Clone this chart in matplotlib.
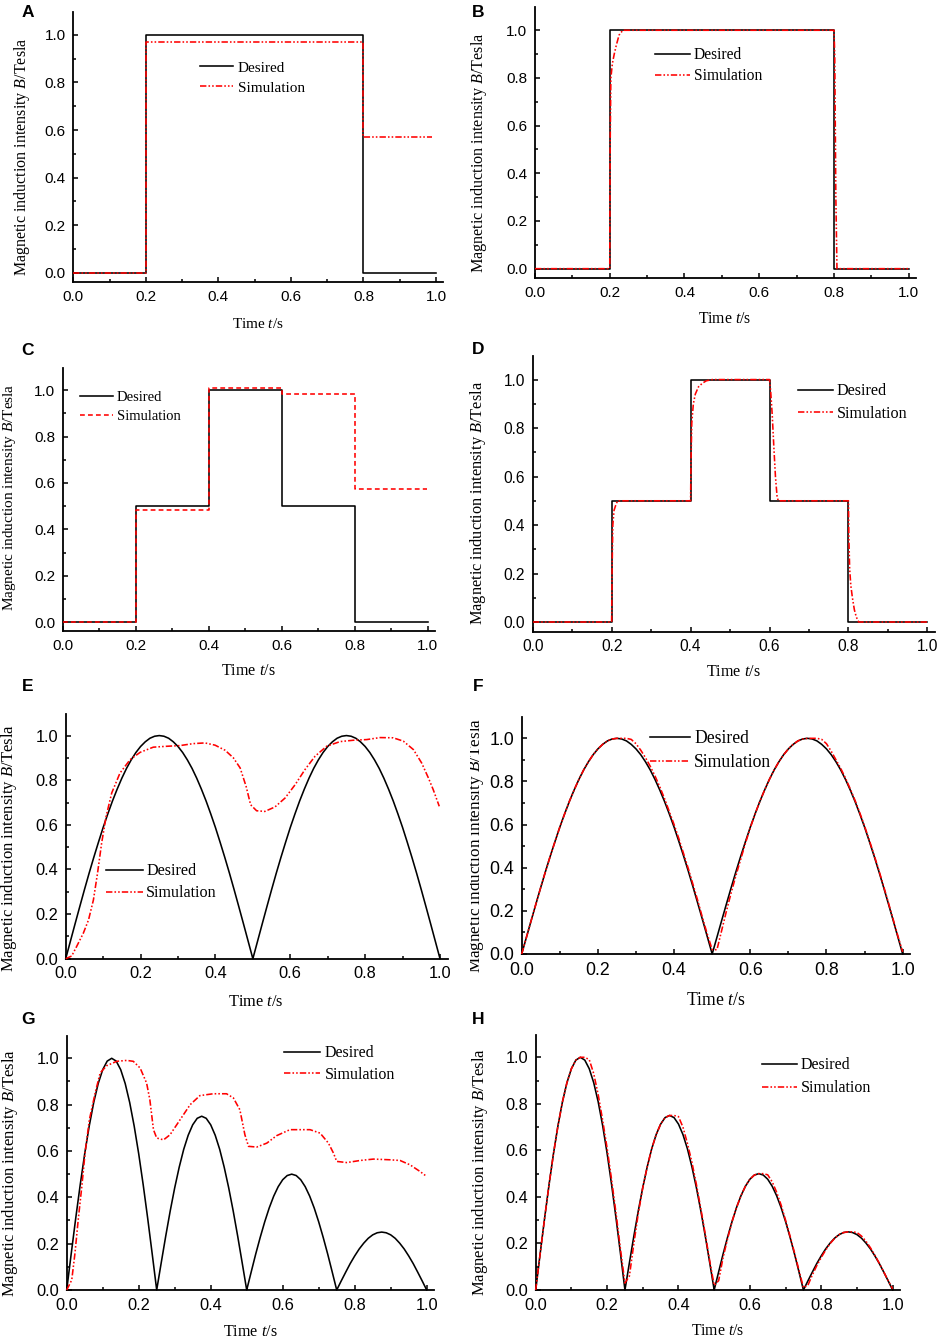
import numpy as np
import matplotlib
matplotlib.use("Agg")
import matplotlib.pyplot as plt
from matplotlib.ticker import MultipleLocator, FormatStrFormatter
from matplotlib.transforms import Bbox, TransformedBbox

plt.rcParams['font.family'] = ['Liberation Serif', 'DejaVu Serif']
plt.rcParams['mathtext.fontset'] = 'custom'
plt.rcParams['mathtext.rm'] = 'Liberation Serif'
plt.rcParams['mathtext.it'] = 'Liberation Serif:italic'

W, H = 940, 1339

# ---------------- data ----------------
# A: single pulse (step signals, break times + levels)
t_des_A = [0.0, 0.2, 0.8, 1.0]
des_A = [0.0, 1.0, 0.0, 0.0]
t_sim_A = [0.0, 0.2, 0.8, 0.988]
sim_A = [0.0, 0.97, 0.57, 0.57]

# B: single pulse, improved controller
t_des_B = [0.0, 0.2, 0.8, 1.0]
des_B = [0.0, 1.0, 0.0, 0.0]
t_sim_B = [0.0, 0.2, 0.201, 0.203, 0.207, 0.212, 0.218, 0.225, 0.235,
           0.8, 0.802, 0.805, 0.808, 1.0]
sim_B = [0.0, 0.0, 0.5, 0.8, 0.86, 0.9, 0.94, 0.98, 1.0,
         1.0, 0.9, 0.3, 0.0, 0.0]

# C: staircase
t_des_C = [0.0, 0.2, 0.4, 0.6, 0.8, 1.0]
des_C = [0.0, 0.5, 1.0, 0.5, 0.0, 0.0]
t_sim_C = [0.0, 0.2, 0.4, 0.6, 0.8, 0.997]
sim_C = [0.0, 0.485, 1.01, 0.985, 0.575, 0.575]

# D: staircase, improved controller
t_des_D = [0.0, 0.2, 0.4, 0.6, 0.8, 1.0]
des_D = [0.0, 0.5, 1.0, 0.5, 0.0, 0.0]
t_sim_D = [0.0, 0.2, 0.201, 0.203, 0.206, 0.21, 0.215,
           0.4, 0.401, 0.403, 0.407, 0.412, 0.42, 0.43, 0.44, 0.455,
           0.6, 0.603, 0.607, 0.611, 0.615, 0.619, 0.622,
           0.8, 0.801, 0.803, 0.806, 0.81, 0.815, 0.82, 0.826, 1.0]
sim_D = [0.0, 0.0, 0.2, 0.4, 0.46, 0.48, 0.5,
         0.5, 0.65, 0.82, 0.9, 0.94, 0.97, 0.985, 0.995, 1.0,
         1.0, 0.95, 0.85, 0.72, 0.6, 0.52, 0.5,
         0.5, 0.35, 0.22, 0.15, 0.1, 0.05, 0.02, 0.0, 0.0]

# sampled time for the sinusoidal references (81 samples over 0..1 s)
t_grid = np.linspace(0.0, 1.0, 81)

# E / F: rectified sine reference, two humps
des_sine = [0.000, 0.078, 0.156, 0.233, 0.309, 0.383, 0.454, 0.522, 0.588, 0.649,
            0.707, 0.760, 0.809, 0.853, 0.891, 0.924, 0.951, 0.972, 0.988, 0.997,
            1.000, 0.997, 0.988, 0.972, 0.951, 0.924, 0.891, 0.853, 0.809, 0.760,
            0.707, 0.649, 0.588, 0.522, 0.454, 0.383, 0.309, 0.233, 0.156, 0.078,
            0.000, 0.078, 0.156, 0.233, 0.309, 0.383, 0.454, 0.522, 0.588, 0.649,
            0.707, 0.760, 0.809, 0.853, 0.891, 0.924, 0.951, 0.972, 0.988, 0.997,
            1.000, 0.997, 0.988, 0.972, 0.951, 0.924, 0.891, 0.853, 0.809, 0.760,
            0.707, 0.649, 0.588, 0.522, 0.454, 0.383, 0.309, 0.233, 0.156, 0.078,
            0.000]

t_sim_E = [0.0, 0.016, 0.029, 0.047, 0.061, 0.074, 0.085, 0.096, 0.108, 0.123,
           0.145, 0.172, 0.199, 0.234, 0.27, 0.305, 0.341, 0.372, 0.399, 0.426,
           0.448, 0.466, 0.482, 0.494, 0.51, 0.532, 0.559, 0.586, 0.613, 0.639,
           0.666, 0.697, 0.733, 0.768, 0.804, 0.84, 0.875, 0.902, 0.929, 0.951,
           0.969, 0.982, 0.998]
sim_E = [0.0, 0.012, 0.054, 0.114, 0.174, 0.263, 0.383, 0.518, 0.638, 0.743,
         0.832, 0.892, 0.925, 0.948, 0.952, 0.955, 0.964, 0.967, 0.957, 0.934,
         0.9, 0.855, 0.772, 0.69, 0.663, 0.66, 0.68, 0.72, 0.78, 0.847,
         0.907, 0.952, 0.973, 0.979, 0.982, 0.991, 0.99, 0.975, 0.937, 0.877,
         0.81, 0.757, 0.683]

sim_F = [0.000, 0.078, 0.156, 0.233, 0.309, 0.383, 0.454, 0.522, 0.588, 0.649,
         0.707, 0.760, 0.809, 0.853, 0.891, 0.924, 0.951, 0.972, 0.988, 0.997,
         1.000, 1.000, 1.000, 0.995, 0.975, 0.945, 0.910, 0.870, 0.825, 0.775,
         0.720, 0.660, 0.600, 0.535, 0.465, 0.395, 0.320, 0.245, 0.165, 0.090,
         0.020, 0.020, 0.110, 0.200, 0.285, 0.365, 0.440, 0.515, 0.585, 0.649,
         0.707, 0.760, 0.809, 0.853, 0.891, 0.924, 0.951, 0.972, 0.988, 0.997,
         1.000, 1.000, 1.000, 0.995, 0.975, 0.940, 0.900, 0.860, 0.815, 0.765,
         0.712, 0.654, 0.593, 0.527, 0.459, 0.388, 0.314, 0.238, 0.161, 0.083,
         0.010]

# G / H: rectified sine with decaying peaks 1, 0.75, 0.5, 0.25
des_decay = [0.000, 0.156, 0.309, 0.454, 0.588, 0.707, 0.809, 0.891, 0.951, 0.988,
             1.000, 0.988, 0.951, 0.891, 0.809, 0.707, 0.588, 0.454, 0.309, 0.156,
             0.000, 0.117, 0.232, 0.341, 0.441, 0.530, 0.607, 0.668, 0.713, 0.741,
             0.750, 0.741, 0.713, 0.668, 0.607, 0.530, 0.441, 0.341, 0.232, 0.117,
             0.000, 0.078, 0.155, 0.227, 0.294, 0.354, 0.405, 0.446, 0.476, 0.494,
             0.500, 0.494, 0.476, 0.446, 0.405, 0.354, 0.294, 0.227, 0.155, 0.078,
             0.000, 0.039, 0.077, 0.114, 0.147, 0.177, 0.202, 0.223, 0.238, 0.247,
             0.250, 0.247, 0.238, 0.223, 0.202, 0.177, 0.147, 0.114, 0.077, 0.039,
             0.000]

t_sim_G = [0.0, 0.014, 0.023, 0.032, 0.042, 0.051, 0.063, 0.079, 0.093, 0.111,
           0.139, 0.167, 0.185, 0.204, 0.222, 0.231, 0.241, 0.25, 0.269, 0.287,
           0.315, 0.343, 0.37, 0.407, 0.444, 0.463, 0.481, 0.495, 0.505, 0.528,
           0.556, 0.583, 0.62, 0.676, 0.704, 0.727, 0.741, 0.75, 0.778, 0.815,
           0.852, 0.898, 0.926, 0.954, 0.981, 1.0]
sim_G = [0.0, 0.043, 0.159, 0.303, 0.447, 0.591, 0.735, 0.85, 0.937, 0.968,
         0.987, 0.991, 0.987, 0.958, 0.893, 0.821, 0.692, 0.656, 0.648, 0.67,
         0.735, 0.8, 0.839, 0.847, 0.847, 0.829, 0.778, 0.67, 0.62, 0.617,
         0.634, 0.666, 0.692, 0.692, 0.677, 0.634, 0.591, 0.555, 0.55, 0.559,
         0.565, 0.562, 0.559, 0.54, 0.512, 0.49]

sim_H = [0.000, 0.156, 0.309, 0.454, 0.588, 0.707, 0.809, 0.891, 0.951, 0.988,
         1.000, 1.000, 0.990, 0.930, 0.840, 0.730, 0.610, 0.475, 0.330, 0.175,
         0.030, 0.060, 0.200, 0.330, 0.440, 0.530, 0.607, 0.668, 0.713, 0.741,
         0.750, 0.750, 0.745, 0.700, 0.630, 0.550, 0.455, 0.350, 0.240, 0.125,
         0.020, 0.040, 0.140, 0.220, 0.294, 0.354, 0.405, 0.446, 0.476, 0.494,
         0.500, 0.500, 0.495, 0.465, 0.420, 0.365, 0.300, 0.232, 0.160, 0.085,
         0.010, 0.020, 0.065, 0.105, 0.140, 0.172, 0.200, 0.222, 0.238, 0.247,
         0.250, 0.250, 0.247, 0.232, 0.210, 0.182, 0.150, 0.115, 0.078, 0.040,
         0.005]

legend_labels = ['Desired', 'Simulation']
ylabel_text = r'Magnetic induction intensity $\it{B}$/Tesla'
xlabel_text = r'Time $\it{t}$/s'

# ---------------- layout (pixels) ----------------
# box = (left, top, right, bottom), legend = (x0, row1_y, row2_y, handle_px, gap_px, fs)
panels = {
    'A': dict(box=(73.3, 11.6, 443.3, 282.2), ylim=(-0.04, 1.098), tfs=11,
              leg=(200, 68, 88, 33, 5, 11), yl=(21.7, 156.7, 11.5), xl=(258.3, 328.3, 11),
              letter=(27.7, 12.7)),
    'B': dict(box=(535.0, 6.9, 916.2, 278.2), ylim=(-0.04, 1.098), tfs=11,
              leg=(655, 54, 73, 35, 4, 11.2), yl=(479.3, 152.5, 11.6), xl=(725, 322.7, 11.3),
              letter=(478.3, 12.7)),
    'C': dict(box=(62.7, 367.6, 435.0, 631.3), ylim=(-0.04, 1.098), tfs=11,
              leg=(80, 397.7, 416.7, 33, 4, 10.5), yl=(9.5, 497.5, 11), xl=(248.3, 675, 11.6),
              letter=(27.7, 350.7)),
    'D': dict(box=(532.7, 355.8, 935.3, 631.7), ylim=(-0.04, 1.098), tfs=11.2,
              leg=(797.7, 390.7, 411.7, 35, 4, 11.6), yl=(477.8, 503.3, 11.8), xl=(733.3, 676, 11.6),
              letter=(478.3, 350.0)),
    'E': dict(box=(65.7, 713.7, 447.5, 958.7), ylim=(0.0, 1.098), tfs=11.8,
              leg=(106, 870.7, 891, 37, 3, 11.6), yl=(9.2, 848.3, 12), xl=(256, 1006, 11.8),
              letter=(27.7, 686.7)),
    'F': dict(box=(521.7, 717.2, 910.3, 954.0), ylim=(0.0, 1.098), tfs=12.8,
              leg=(650, 738.3, 761, 40, 4, 12.7), yl=(476.5, 845, 12.3), xl=(715.7, 1005, 12.7),
              letter=(478.3, 686.7)),
    'G': dict(box=(66.7, 1035.6, 433.9, 1290.0), ylim=(0.0, 1.098), tfs=11.8,
              leg=(284, 1052.3, 1072.3, 36, 5, 11.5), yl=(10.3, 1173.3, 12), xl=(250, 1336, 11.6),
              letter=(27.7, 1020.0)),
    'H': dict(box=(535.7, 1034.5, 899.8, 1290.0), ylim=(0.0, 1.098), tfs=11.8,
              leg=(761.7, 1064.3, 1086, 35, 4, 11.5), yl=(480.3, 1171.7, 12), xl=(717.3, 1335, 11.3),
              letter=(478.3, 1020.0)),
}

RED_DASH = (4, 1.3, 1, 1.3, 1, 1.3)
LW = 1.15

fig = plt.figure(figsize=(W / 100, H / 100), dpi=100)


def make_axes(cfg):
    l, t, r, b = cfg['box']
    ax = fig.add_axes([l / W, 1 - b / H, (r - l) / W, (b - t) / H])
    ax.set_xlim(0, 1.02)
    ax.set_ylim(*cfg['ylim'])
    ax.patch.set_alpha(0)
    for s in ['top', 'right']:
        ax.spines[s].set_visible(False)
    for s in ['left', 'bottom']:
        ax.spines[s].set_linewidth(1.3)
    for axis in (ax.xaxis, ax.yaxis):
        axis.set_major_locator(MultipleLocator(0.2))
        axis.set_minor_locator(MultipleLocator(0.1))
        axis.set_major_formatter(FormatStrFormatter('%.1f'))
    ax.tick_params(which='both', direction='in', width=1.1, labelsize=cfg['tfs'],
                   labelfontfamily='Liberation Sans', pad=5.5)
    ax.tick_params(which='major', length=3.5)
    ax.tick_params(which='minor', length=2.5)
    return ax


def decorate(ax, cfg, handles, name):
    x0, r1, r2, hl, gap, fs = cfg['leg']
    fs_px = fs * 100 / 72
    text_h = 0.9 * fs_px
    ax.legend(handles, legend_labels, loc='upper left',
              bbox_to_anchor=(x0 / W, 1 - (r1 - text_h / 2) / H),
              bbox_transform=fig.transFigure, frameon=False, borderpad=0,
              borderaxespad=0, handlelength=hl / fs_px, handletextpad=gap / fs_px,
              labelspacing=max(0.0, (r2 - r1 - text_h) / fs_px), fontsize=fs)

    yx, yy, yfs = cfg['yl']
    ytxt = fig.text(yx / W, 1 - yy / H, ylabel_text, rotation=90, ha='center',
                    va='center', fontsize=yfs)
    if name == 'F':
        # label of panel F is cut off by the left edge of its panel
        ytxt.set_clip_box(TransformedBbox(Bbox([[470 / W, 0], [1, 1]]), fig.transFigure))

    xx, xy, xfs = cfg['xl']
    fig.text(xx / W, 1 - xy / H, xlabel_text, ha='center', va='baseline', fontsize=xfs)

    lx, ly = cfg['letter']
    fig.text(lx / W, 1 - ly / H, name, ha='center', va='center', fontsize=12.5,
             fontweight='bold', family='Liberation Sans')


# step panels A-D
step_sets = {
    'A': (t_des_A, des_A, t_sim_A, sim_A, 'steps'),
    'B': (t_des_B, des_B, t_sim_B, sim_B, 'line'),
    'C': (t_des_C, des_C, t_sim_C, sim_C, 'steps'),
    'D': (t_des_D, des_D, t_sim_D, sim_D, 'line'),
}
for name, (td, yd, ts, ys, mode) in step_sets.items():
    cfg = panels[name]
    ax = make_axes(cfg)
    dash = (3, 2) if name == 'C' else RED_DASH
    l1, = ax.plot(td, yd, color='black', lw=LW, drawstyle='steps-post', zorder=2)
    if mode == 'steps':
        l2, = ax.plot(ts, ys, color='red', lw=LW, dashes=dash, drawstyle='steps-post', zorder=3)
    else:
        l2, = ax.plot(ts, ys, color='red', lw=LW, dashes=dash, zorder=3)
    decorate(ax, cfg, [l1, l2], name)

# sinusoidal panels E-H
sine_sets = {
    'E': (t_grid, des_sine, t_sim_E, sim_E),
    'F': (t_grid, des_sine, t_grid, sim_F),
    'G': (t_grid, des_decay, t_sim_G, sim_G),
    'H': (t_grid, des_decay, t_grid, sim_H),
}
for name, (td, yd, ts, ys) in sine_sets.items():
    cfg = panels[name]
    ax = make_axes(cfg)
    l1, = ax.plot(td, yd, color='black', lw=LW, zorder=2, clip_on=False)
    l2, = ax.plot(ts, ys, color='red', lw=LW, dashes=RED_DASH, zorder=3, clip_on=False)
    decorate(ax, cfg, [l1, l2], name)

fig.savefig('out.png', dpi=100)
